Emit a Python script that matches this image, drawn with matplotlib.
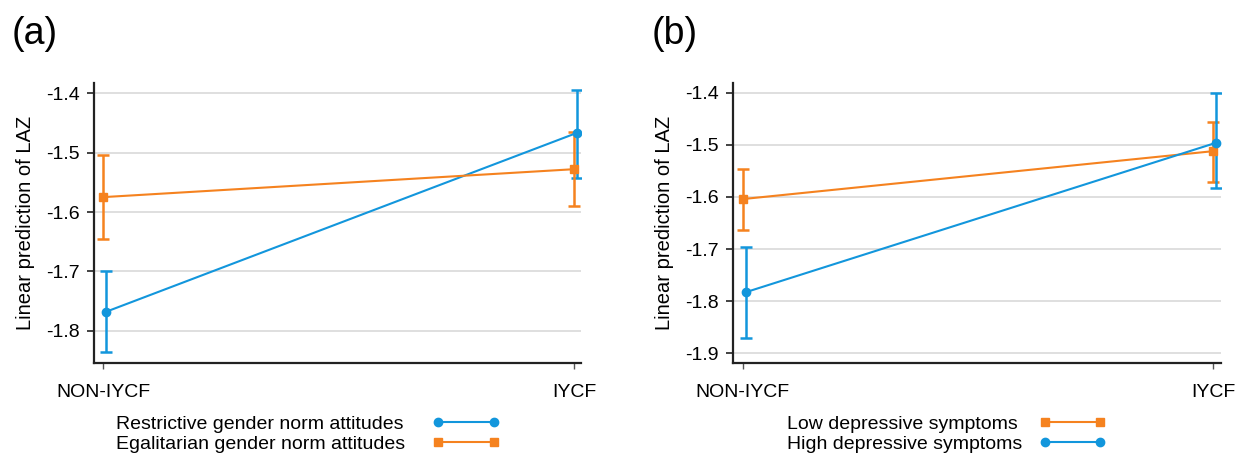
import numpy as np
import matplotlib.pyplot as plt
from matplotlib.lines import Line2D

plt.rcParams['font.family'] = ['Liberation Sans', 'DejaVu Sans']

categories = ["NON-IYCF", "IYCF"]

# panel (a): gender norm attitudes
a_restrictive = [-1.768, -1.467]
a_restrictive_lo = [-1.835, -1.543]
a_restrictive_hi = [-1.699, -1.395]
a_egalitarian = [-1.575, -1.528]
a_egalitarian_lo = [-1.645, -1.590]
a_egalitarian_hi = [-1.504, -1.466]

# panel (b): depressive symptoms
b_low = [-1.604, -1.512]
b_low_lo = [-1.663, -1.571]
b_low_hi = [-1.546, -1.456]
b_high = [-1.783, -1.496]
b_high_lo = [-1.871, -1.583]
b_high_hi = [-1.696, -1.400]

blue = "#1296dc"
orange = "#f5821f"
fs = 14

fig = plt.figure(figsize=(12.42, 4.53), dpi=100)
ax1 = fig.add_axes([94/1242, 1-363/453, (581-94)/1242, (363-83)/453])
ax2 = fig.add_axes([733/1242, 1-363/453, (1221-733)/1242, (363-83)/453])

x = np.arange(len(categories))


def draw(ax, y, lo, hi, color, marker, ms, label, dx=0.0):
    y = np.array(y)
    err = [y - np.array(lo), np.array(hi) - y]
    ax.errorbar(x + dx, y, yerr=err, fmt="none", ecolor=color, elinewidth=1.8,
                capsize=4, capthick=1.8, zorder=3)
    line, = ax.plot(x + dx, y, color=color, lw=1.5, marker=marker, ms=ms, label=label, zorder=4)
    return line


def style(ax, yticks, ylim, xlim):
    ax.set_ylim(ylim)
    ax.set_xlim(xlim)
    ax.set_yticks(yticks)
    ax.set_yticklabels([f"{t:.1f}" for t in yticks])
    ax.set_xticks(x)
    ax.set_xticklabels(categories)
    ax.grid(axis="y", color="#dcdcdc", lw=1.3)
    ax.set_axisbelow(True)
    for s in ["top", "right"]:
        ax.spines[s].set_visible(False)
    for s in ["left", "bottom"]:
        ax.spines[s].set_color("#222222")
        ax.spines[s].set_linewidth(1.6)
    ax.tick_params(axis="y", length=5, width=1.2, labelsize=fs, pad=5, color="#222222")
    ax.tick_params(axis="x", length=4, width=1.0, labelsize=fs, pad=11, color="#555555")
    ax.set_ylabel("Linear prediction of LAZ", fontsize=fs + 0.5, labelpad=8)


def legend(ax, lines, text_left_px, colspace):
    # labels in a left column, line samples in a right column
    blank = [Line2D([], [], alpha=0) for _ in lines]
    labels = [l.get_label() for l in lines]
    hl, tp = 3.45, 0.4
    fs_px = fs * 100 / 72
    anchor = (text_left_px - (hl + tp) * fs_px) / 1242
    ax.legend(blank + lines, labels + [""] * len(lines), ncol=2,
              loc="upper left", bbox_to_anchor=(anchor, 1-415/453), bbox_transform=fig.transFigure,
              frameon=False, borderpad=0, borderaxespad=0, numpoints=2,
              handlelength=hl, handletextpad=tp, labelspacing=0.15,
              columnspacing=colspace, fontsize=fs)


l1 = draw(ax1, a_restrictive, a_restrictive_lo, a_restrictive_hi, blue, "o", 6,
          "Restrictive gender norm attitudes", dx=0.006)
l2 = draw(ax1, a_egalitarian, a_egalitarian_lo, a_egalitarian_hi, orange, "s", 5.5,
          "Egalitarian gender norm attitudes")
style(ax1, [-1.8, -1.7, -1.6, -1.5, -1.4], (-1.854, -1.383), (-0.019, 1.015))
legend(ax1, [l1, l2], 116, 1.4)

l3 = draw(ax2, b_low, b_low_lo, b_low_hi, orange, "s", 5.5, "Low depressive symptoms")
l4 = draw(ax2, b_high, b_high_lo, b_high_hi, blue, "o", 6, "High depressive symptoms", dx=0.006)
style(ax2, [-1.9, -1.8, -1.7, -1.6, -1.5, -1.4], (-1.919, -1.381), (-0.021, 1.017))
legend(ax2, [l3, l4], 787, 0.85)

fig.text(12/1242, 1-44/453, "(a)", fontsize=27, va="baseline")
fig.text(652/1242, 1-44/453, "(b)", fontsize=27, va="baseline")

fig.savefig("out.png", dpi=100)
